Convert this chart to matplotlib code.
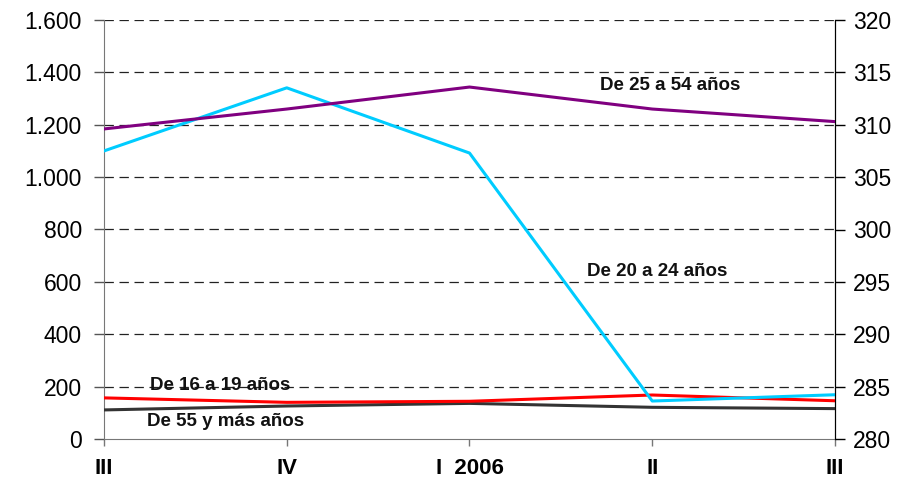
import matplotlib
matplotlib.use("Agg")
import matplotlib.pyplot as plt

categories = ["III", "IV", "I  2006", "II", "III"]
edad_25_54 = [309.6, 311.5, 313.6, 311.5, 310.3]   # right axis
edad_20_24 = [1100, 1341, 1092, 145, 169]
edad_16_19 = [157, 140, 144, 168, 146]
edad_55_mas = [111, 126, 136, 121, 116]
left_ticks = [0, 200, 400, 600, 800, 1000, 1200, 1400, 1600]
right_ticks = [280, 285, 290, 295, 300, 305, 310, 315, 320]

plt.rcParams['font.family'] = ['Liberation Sans', 'DejaVu Sans']

W, H = 917, 483
fig = plt.figure(figsize=(W/100, H/100), dpi=100)
ax = fig.add_axes([104/W, 1-439/H, (835-104)/W, (439-20)/H])
ax2 = ax.twinx()

x = list(range(len(categories)))
ax.set_xlim(0, len(categories)-1)
ax.set_ylim(0, 1600)
ax2.set_ylim(280, 320)

for t in left_ticks[1:]:
    ax.axhline(t, color='#222222', lw=0.9, ls=(0, (7.5, 4.5)), zorder=1)

ax.plot(x, edad_55_mas, color='#333333', lw=2.2, zorder=3)
ax.plot(x, edad_16_19, color='#ff0000', lw=2.2, zorder=3)
ax.plot(x, edad_20_24, color='#00ccff', lw=2.2, zorder=3)
ax2.plot(x, edad_25_54, color='#800080', lw=2.2, zorder=3)

ax.set_yticks(left_ticks)
ax.set_yticklabels([f"{v:,}".replace(",", ".") for v in left_ticks], fontsize=16.5)
ax2.set_yticks(right_ticks)
ax2.set_yticklabels([str(v) for v in right_ticks], fontsize=16.5)
ax.set_xticks(x)
ax.set_xticklabels(categories, fontsize=16, fontweight='bold')

for a in (ax, ax2):
    a.spines['top'].set_visible(False)
ax.spines['left'].set_color('#777777')
ax.spines['bottom'].set_color('#777777')
ax2.spines['left'].set_visible(False)
ax2.spines['bottom'].set_visible(False)
ax2.spines['right'].set_color('black')
ax.tick_params(axis='y', direction='out', length=7, width=1, color='#555555', pad=9)
ax.tick_params(axis='x', direction='out', length=5, width=1, color='#777777', pad=9)
ax2.tick_params(axis='y', direction='out', length=7, width=1, color='black', pad=6)

def label(px, py, s):
    ax.text(px, H - py, s, transform=None, fontsize=13.5, fontweight='bold',
            ha='center', va='center', color='#111111')

label(670, 85, "De 25 a 54 años")
label(657, 271, "De 20 a 24 años")
label(220, 386, "De 16 a 19 años")
label(226, 422, "De 55 y más años")

fig.savefig("out.png", dpi=100)
